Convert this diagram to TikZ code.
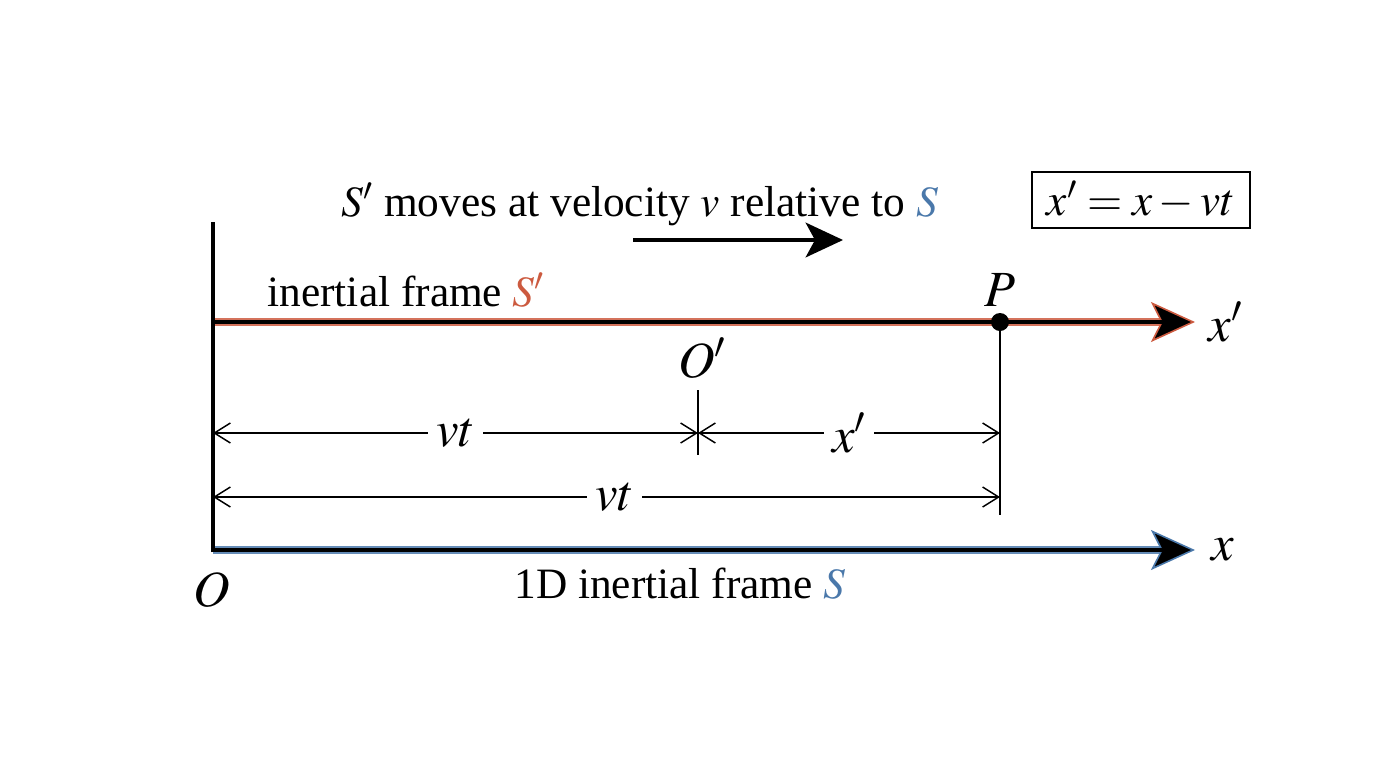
\documentclass[tikz,border=0pt]{standalone}
\usepackage{mathptmx}
\usepackage[no-math]{fontspec}
\setmainfont{Liberation Serif}
\usetikzlibrary{arrows.meta,positioning}
\definecolor{framered}{RGB}{204,90,63}
\definecolor{frameblue}{RGB}{74,120,170}
\newcommand{\bigtext}{\fontsize{32.5}{38}\selectfont}
\newcommand{\bigmath}{\fontsize{38}{44}\selectfont}
\tikzset{
  frameaxis/.style={#1!85!white,line width=6.2pt,
    -{Stealth[length=33pt,width=30pt,inset=7.5pt,line width=1.2pt,fill=black,color=#1]}},
  framecore/.style={black,line width=2.5pt,shorten >=20pt},
  dimension/.style={line width=1.1pt,
    {Straight Barb[length=12pt,width=15pt]}-{Straight Barb[length=12pt,width=15pt]}},
  dimlabel/.style={fill=white,inner sep=6pt,font=\bigmath},
  label/.style={inner sep=0pt,font=\bigtext},
  mathlabel/.style={inner sep=0pt,font=\bigmath},
  tick/.style={black,line width=1.2pt}
}
\begin{document}
\begin{tikzpicture}[x=0.75pt,y=-0.75pt]
  \useasboundingbox (0,0) rectangle (1376,768);
  % frame origins and axis ends
  \coordinate (O) at (213,550);
  \coordinate (Otop) at (213,222);
  \coordinate (Os) at (213,322);
  \coordinate (xend) at (1195,550);
  \coordinate (xsend) at (1195,322);
  \coordinate (Optop) at (698,390);
  \coordinate (Opbot) at (698,455);
  \coordinate (Pbot) at (1000,515);
  \coordinate (dimA) at (213,433);
  \coordinate (dimB) at (698,433);
  \coordinate (dimC) at (1000,433);
  \coordinate (dimD) at (213,497);
  \coordinate (dimE) at (1000,497);
  \coordinate (vstart) at (633,240);
  \coordinate (vend) at (843,240);
  % axes
  \draw[frameaxis=framered] (Os) -- (xsend);
  \draw[framecore] (Os) -- (xsend);
  \draw[frameaxis=frameblue] (O) -- (xend);
  \draw[framecore] (O) -- (xend);
  \draw[black,line width=2.4pt] (O) ++(0,2) -- (Otop);
  \node[circle,fill=black,inner sep=0pt,minimum size=13.5pt] (P) at (1000,322) {};
  \draw[tick] (P) -- (Pbot);
  \draw[tick] (Optop) -- (Opbot);
  % distances
  \draw[dimension] (dimA) -- node[dimlabel] (vt1) {$vt$} (dimB);
  \draw[dimension] (dimB) -- node[dimlabel] (xp) {$x'$} (dimC);
  \draw[dimension] (dimD) -- node[dimlabel,xshift=6pt] (vt2) {$vt$} (dimE);
  % velocity
  \draw[line width=3pt,-{Stealth[length=28pt,width=26pt,inset=7pt]}] (vstart) -- (vend);
  % labels
  \node[label,anchor=base] (title) at (640,216) {$S'$ moves at velocity $v$ relative to \textcolor{frameblue}{$S$}};
  \node[label,anchor=base] (Sslabel) at (406,306) {inertial frame \textcolor{framered}{$S'$}};
  \node[label,anchor=base] (Slabel) at (680,598) {1D inertial frame \textcolor{frameblue}{$S$}};
  \node[mathlabel] (Olabel) at (212,590) {$O$};
  \node[mathlabel] (Oplabel) at (702,358) {$O'$};
  \node[mathlabel] (Plabel) at (1000,290) {$P$};
  \node[mathlabel,right=10pt of xsend] (xslabel) {$x'$};
  \node[mathlabel,right=12pt of xend] (xlabel) {$x$};
  \node[draw,line width=1.1pt,font=\fontsize{34}{40}\selectfont,minimum width=163.5pt,minimum height=42pt,inner sep=2pt] (eq) at (1141,200) {$x' = x - vt$};
\end{tikzpicture}
\end{document}
